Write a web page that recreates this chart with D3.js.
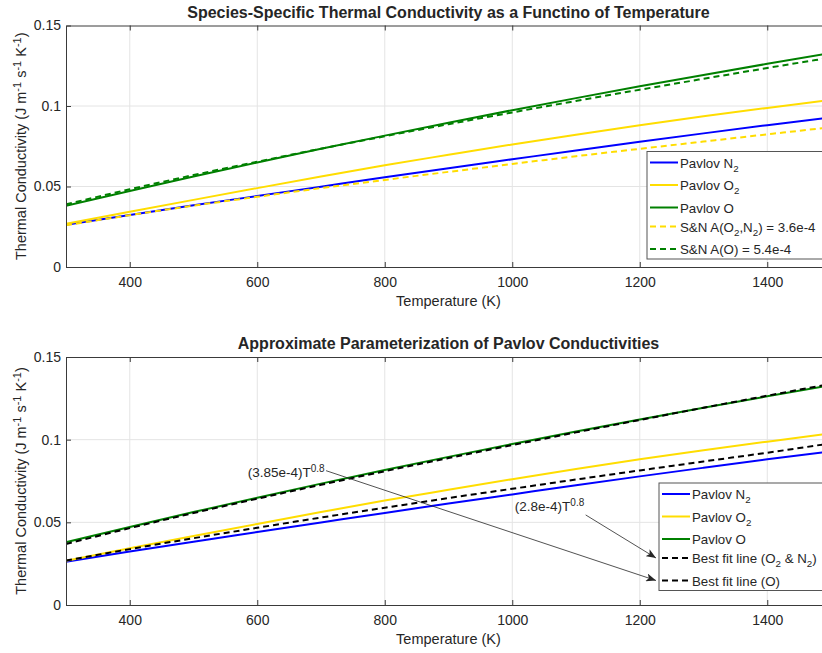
<!DOCTYPE html>
<html>
<head>
<meta charset="utf-8">
<script src="https://cdn.jsdelivr.net/npm/d3@7"></script>
<style>
body { margin: 0; background: #fff; }
text { font-family: "Liberation Sans", Arial, sans-serif; fill: #262626; }
</style>
</head>
<body>
<div id="chart"></div>
<script>
// values
var temps    = [300, 400, 500, 600, 700, 800, 900, 1000, 1100, 1200, 1300, 1400, 1500];
var pavlovN2 = [0.0262, 0.0323, 0.0383, 0.0441, 0.0499, 0.0557, 0.0614, 0.0669, 0.0724, 0.0778, 0.0830, 0.0881, 0.0930];
var pavlovO2 = [0.0268, 0.0343, 0.0417, 0.0490, 0.0562, 0.0632, 0.0697, 0.0761, 0.0822, 0.0881, 0.0936, 0.0988, 0.1038];
var pavlovO  = [0.0380, 0.0472, 0.0562, 0.0649, 0.0734, 0.0816, 0.0896, 0.0974, 0.1049, 0.1122, 0.1193, 0.1262, 0.1330];
var snO2N2   = [0.0259, 0.0322, 0.0381, 0.0436, 0.0490, 0.0541, 0.0591, 0.0640, 0.0688, 0.0734, 0.0779, 0.0824, 0.0868];
var snO      = [0.0389, 0.0483, 0.0571, 0.0654, 0.0735, 0.0812, 0.0887, 0.0960, 0.1031, 0.1101, 0.1169, 0.1236, 0.1301];
var fitO2N2  = [0.0269, 0.0338, 0.0404, 0.0467, 0.0529, 0.0588, 0.0647, 0.0703, 0.0759, 0.0814, 0.0868, 0.0921, 0.0978];
var fitO     = [0.0369, 0.0465, 0.0556, 0.0643, 0.0727, 0.0809, 0.0889, 0.0967, 0.1044, 0.1119, 0.1193, 0.1266, 0.1338];

var xTicks = [400, 600, 800, 1000, 1200, 1400];
var yTicks = [0, 0.05, 0.1, 0.15];
var xDomain = [300, 1500];
var yDomain = [0, 0.15];

var titleTop = "Species-Specific Thermal Conductivity as a Functino of Temperature";
var titleBottom = "Approximate Parameterization of Pavlov Conductivities";
var xLabel = "Temperature (K)";

// label pieces: [text, 0 normal / -1 subscript / 1 superscript]
var yLabelParts = [["Thermal Conductivity (J m", 0], ["-1", 1], [" s", 0], ["-1", 1], [" K", 0], ["-1", 1], [")", 0]];
var lblN2 = [["Pavlov N", 0], ["2", -1]];
var lblO2 = [["Pavlov O", 0], ["2", -1]];
var lblO = [["Pavlov O", 0]];
var lblSnO2N2 = [["S&N A(O", 0], ["2", -1], [",N", 0], ["2", -1], [") = 3.6e-4", 0]];
var lblSnO = [["S&N A(O) = 5.4e-4", 0]];
var lblFitO2N2 = [["Best fit line (O", 0], ["2", -1], [" & N", 0], ["2", -1], [")", 0]];
var lblFitO = [["Best fit line (O)", 0]];
var annFitO = [["(3.85e-4)T", 0], ["0.8", 1]];
var annFitO2N2 = [["(2.8e-4)T", 0], ["0.8", 1]];

var BLUE = "#0000ff", YELLOW = "#ffdd00", GREEN = "#008000", BLACK = "#000000";

var W = 822, H = 653;
var svg = d3.select("#chart").append("svg")
    .attr("width", W)
    .attr("height", H);
svg.append("rect").attr("width", W).attr("height", H).attr("fill", "#fff");

svg.append("defs").append("marker")
    .attr("id", "arrowhead")
    .attr("viewBox", "0 0 10 8")
    .attr("refX", 10)
    .attr("refY", 4)
    .attr("markerWidth", 10)
    .attr("markerHeight", 8)
    .attr("markerUnits", "userSpaceOnUse")
    .attr("orient", "auto")
    .append("path")
    .attr("d", "M0,0 L10,4 L0,8 L2.5,4 Z")
    .attr("fill", "#262626");

function addParts(textSel, parts, size) {
    var shift = 0;
    parts.forEach(function(p) {
        var want = p[1] == -1 ? 4 : (p[1] == 1 ? -5 : 0);
        textSel.append("tspan")
            .attr("dy", want - shift)
            .style("font-size", p[1] == 0 ? size + "px" : (size - 3.5) + "px")
            .text(p[0]);
        shift = want;
    });
}

var x = d3.scaleLinear().domain(xDomain).range([66, 831]);

function drawPanel(top, bottom, title, series, legendItems, legendX, clipId) {
    var y = d3.scaleLinear().domain(yDomain).range([bottom, top]);
    var g = svg.append("g");

    // grid
    g.selectAll(".gx").data(xTicks).enter().append("line")
        .attr("x1", function(d) { return x(d); })
        .attr("x2", function(d) { return x(d); })
        .attr("y1", top).attr("y2", bottom)
        .attr("stroke", "#e4e4e4");
    g.selectAll(".gy").data(yTicks.slice(1, -1)).enter().append("line")
        .attr("x1", x(xDomain[0])).attr("x2", x(xDomain[1]))
        .attr("y1", function(d) { return y(d); })
        .attr("y2", function(d) { return y(d); })
        .attr("stroke", "#e4e4e4");

    g.append("clipPath").attr("id", clipId).append("rect")
        .attr("x", x(xDomain[0])).attr("y", top)
        .attr("width", x(xDomain[1]) - x(xDomain[0])).attr("height", bottom - top);

    var line = d3.line()
        .x(function(d, i) { return x(temps[i]); })
        .y(function(d) { return y(d); })
        .curve(d3.curveMonotoneX);

    var plot = g.append("g").attr("clip-path", "url(#" + clipId + ")");
    series.forEach(function(s) {
        plot.append("path")
            .attr("d", line(s.values))
            .attr("fill", "none")
            .attr("stroke", s.color)
            .attr("stroke-width", 2)
            .style("stroke-dasharray", s.dash ? "6,4" : null);
    });

    // axes
    g.append("g")
        .attr("transform", "translate(0," + bottom + ")")
        .call(d3.axisBottom(x).tickValues(xTicks).tickSize(-5).tickPadding(10).tickSizeOuter(0)
            .tickFormat(d3.format("d")));
    g.append("g")
        .attr("transform", "translate(0," + top + ")")
        .call(d3.axisTop(x).tickValues(xTicks).tickSize(-5).tickFormat("").tickSizeOuter(0));
    g.append("g")
        .attr("transform", "translate(" + x(xDomain[0]) + ",0)")
        .call(d3.axisLeft(y).tickValues(yTicks).tickSize(-5).tickPadding(5).tickSizeOuter(0)
            .tickFormat(function(d) { return d == 0 ? "0" : String(+d.toFixed(2)); }));
    g.selectAll(".domain").attr("stroke", "#3a3a3a");
    g.selectAll(".tick line").attr("stroke", "#3a3a3a");
    g.selectAll(".tick text")
        .style("font-size", "14px")
        .style("font-family", '"Liberation Sans", Arial, sans-serif')
        .attr("fill", "#262626");

    // title
    g.append("text")
        .attr("x", (x(xDomain[0]) + x(xDomain[1])) / 2)
        .attr("y", top - 8)
        .attr("text-anchor", "middle")
        .style("font-size", "16px")
        .style("font-weight", "bold")
        .attr("fill", "#000")
        .text(title);

    // x label
    g.append("text")
        .attr("x", (x(xDomain[0]) + x(xDomain[1])) / 2)
        .attr("y", bottom + 39)
        .attr("text-anchor", "middle")
        .style("font-size", "14.5px")
        .text(xLabel);

    // y label
    var yl = g.append("text")
        .attr("transform", "translate(26," + ((top + bottom) / 2) + ") rotate(-90)")
        .attr("text-anchor", "middle")
        .style("font-size", "14.5px");
    addParts(yl, yLabelParts, 14.5);

    // legend
    var rows = [];
    var ry = 11;
    legendItems.forEach(function(item) {
        rows.push(ry);
        var hasSub = item.parts.some(function(p) { return p[1] == -1; });
        ry += hasSub ? 22.5 : 19;
    });
    var boxH = rows[rows.length - 1] + 10;
    var lg = g.append("g").attr("transform", "translate(" + legendX + "," + (top + 126) + ")");
    lg.append("rect")
        .attr("width", 200).attr("height", boxH)
        .attr("fill", "#fff")
        .attr("stroke", "#555")
        .attr("stroke-width", 1);
    legendItems.forEach(function(item, i) {
        lg.append("line")
            .attr("x1", 3).attr("x2", 31)
            .attr("y1", rows[i]).attr("y2", rows[i])
            .attr("stroke", item.color)
            .attr("stroke-width", 2)
            .style("stroke-dasharray", item.dash ? "6,4" : null);
        var t = lg.append("text")
            .attr("x", 33).attr("y", rows[i] + 5)
            .style("font-size", "13.3px");
        addParts(t, item.parts, 13.3);
    });

    return { y: y, rows: rows, legendTop: top + 126, legendX: legendX, g: g };
}

var topPanel = drawPanel(25.5, 267, titleTop,
    [
        { values: pavlovN2, color: BLUE, dash: false },
        { values: pavlovO2, color: YELLOW, dash: false },
        { values: pavlovO, color: GREEN, dash: false },
        { values: snO2N2, color: YELLOW, dash: true },
        { values: snO, color: GREEN, dash: true }
    ],
    [
        { parts: lblN2, color: BLUE, dash: false },
        { parts: lblO2, color: YELLOW, dash: false },
        { parts: lblO, color: GREEN, dash: false },
        { parts: lblSnO2N2, color: YELLOW, dash: true },
        { parts: lblSnO, color: GREEN, dash: true }
    ], 647, "clipTop");

var botPanel = drawPanel(357, 605, titleBottom,
    [
        { values: pavlovN2, color: BLUE, dash: false },
        { values: pavlovO2, color: YELLOW, dash: false },
        { values: pavlovO, color: GREEN, dash: false },
        { values: fitO2N2, color: BLACK, dash: true },
        { values: fitO, color: BLACK, dash: true }
    ],
    [
        { parts: lblN2, color: BLUE, dash: false },
        { parts: lblO2, color: YELLOW, dash: false },
        { parts: lblO, color: GREEN, dash: false },
        { parts: lblFitO2N2, color: BLACK, dash: true },
        { parts: lblFitO, color: BLACK, dash: true }
    ], 659, "clipBot");

// annotations with arrows pointing at the legend entries
function annotate(panel, parts, T, k, rowIndex, atBottom) {
    var t = svg.append("text")
        .attr("x", x(T)).attr("y", panel.y(k))
        .style("font-size", "13.5px");
    addParts(t, parts, 13.5);
    var b = t.node().getBBox();
    var sx = b.x + b.width + 1;
    var sy = atBottom ? b.y + b.height + 1 : b.y + b.height * 0.45;
    svg.append("line")
        .attr("x1", sx).attr("y1", sy)
        .attr("x2", panel.legendX - 3)
        .attr("y2", panel.legendTop + panel.rows[rowIndex])
        .attr("stroke", "#262626")
        .attr("stroke-width", 0.8)
        .attr("marker-end", "url(#arrowhead)");
}
annotate(botPanel, annFitO, 585, 0.0774, 4, false);
annotate(botPanel, annFitO2N2, 1004, 0.0569, 3, true);
</script>
</body>
</html>
